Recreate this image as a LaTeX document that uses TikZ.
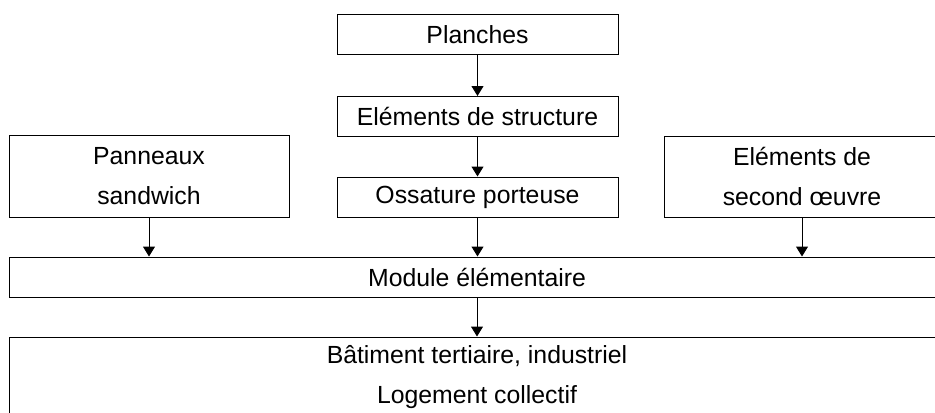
\documentclass[tikz,border=0pt]{standalone}
\usepackage{fontspec}
\setmainfont{Liberation Sans}
\usetikzlibrary{arrows.meta}

\begin{document}
\begin{tikzpicture}[x=0.5pt, y=-0.5pt, line width=0.5pt,
    every node/.style={font=\fontsize{12.4}{20}\selectfont},
    box/.style={draw, inner sep=0pt, align=center, minimum height=20pt},
    >={Triangle[length=5pt, width=6pt]}]
  % Frame (the picture is cut on the right and at the bottom)
  \useasboundingbox (0, 0) rectangle (935, 412);
  \clip (0, 0) rectangle (935, 412);

  % Central chain
  \node[box, minimum width=140.5pt] (planches) at (477.5, 34.5) {Planches};
  \node[box, minimum width=140.5pt] (structure) at (477.5, 116.5) {Eléments de structure};
  \node[box, minimum width=140.5pt] (ossature) at (477.5, 197) {Ossature porteuse};

  % Side boxes
  \node[box, minimum width=140pt, minimum height=41pt] (panneaux) at (149, 176) {Panneaux\\sandwich};
  \node[box, minimum width=138pt, minimum height=40.5pt] (oeuvre) at (802, 176.5) {Eléments de\\second œuvre};

  % Wide boxes
  \node[box, minimum width=468pt] (module) at (477, 277) {Module élémentaire};
  \node[box, minimum width=468pt, minimum height=40pt] (batiment) at (477, 377) {Bâtiment tertiaire, industriel\\Logement collectif};

  % Arrows
  \draw[->] (planches) -- (structure);
  \draw[->] (structure) -- (ossature);
  \draw[->] (ossature) -- (ossature |- module.north);
  \draw[->] (panneaux) -- (panneaux |- module.north);
  \draw[->] (oeuvre) -- (oeuvre |- module.north);
  \draw[->] (module) -- (batiment);
\end{tikzpicture}
\end{document}
